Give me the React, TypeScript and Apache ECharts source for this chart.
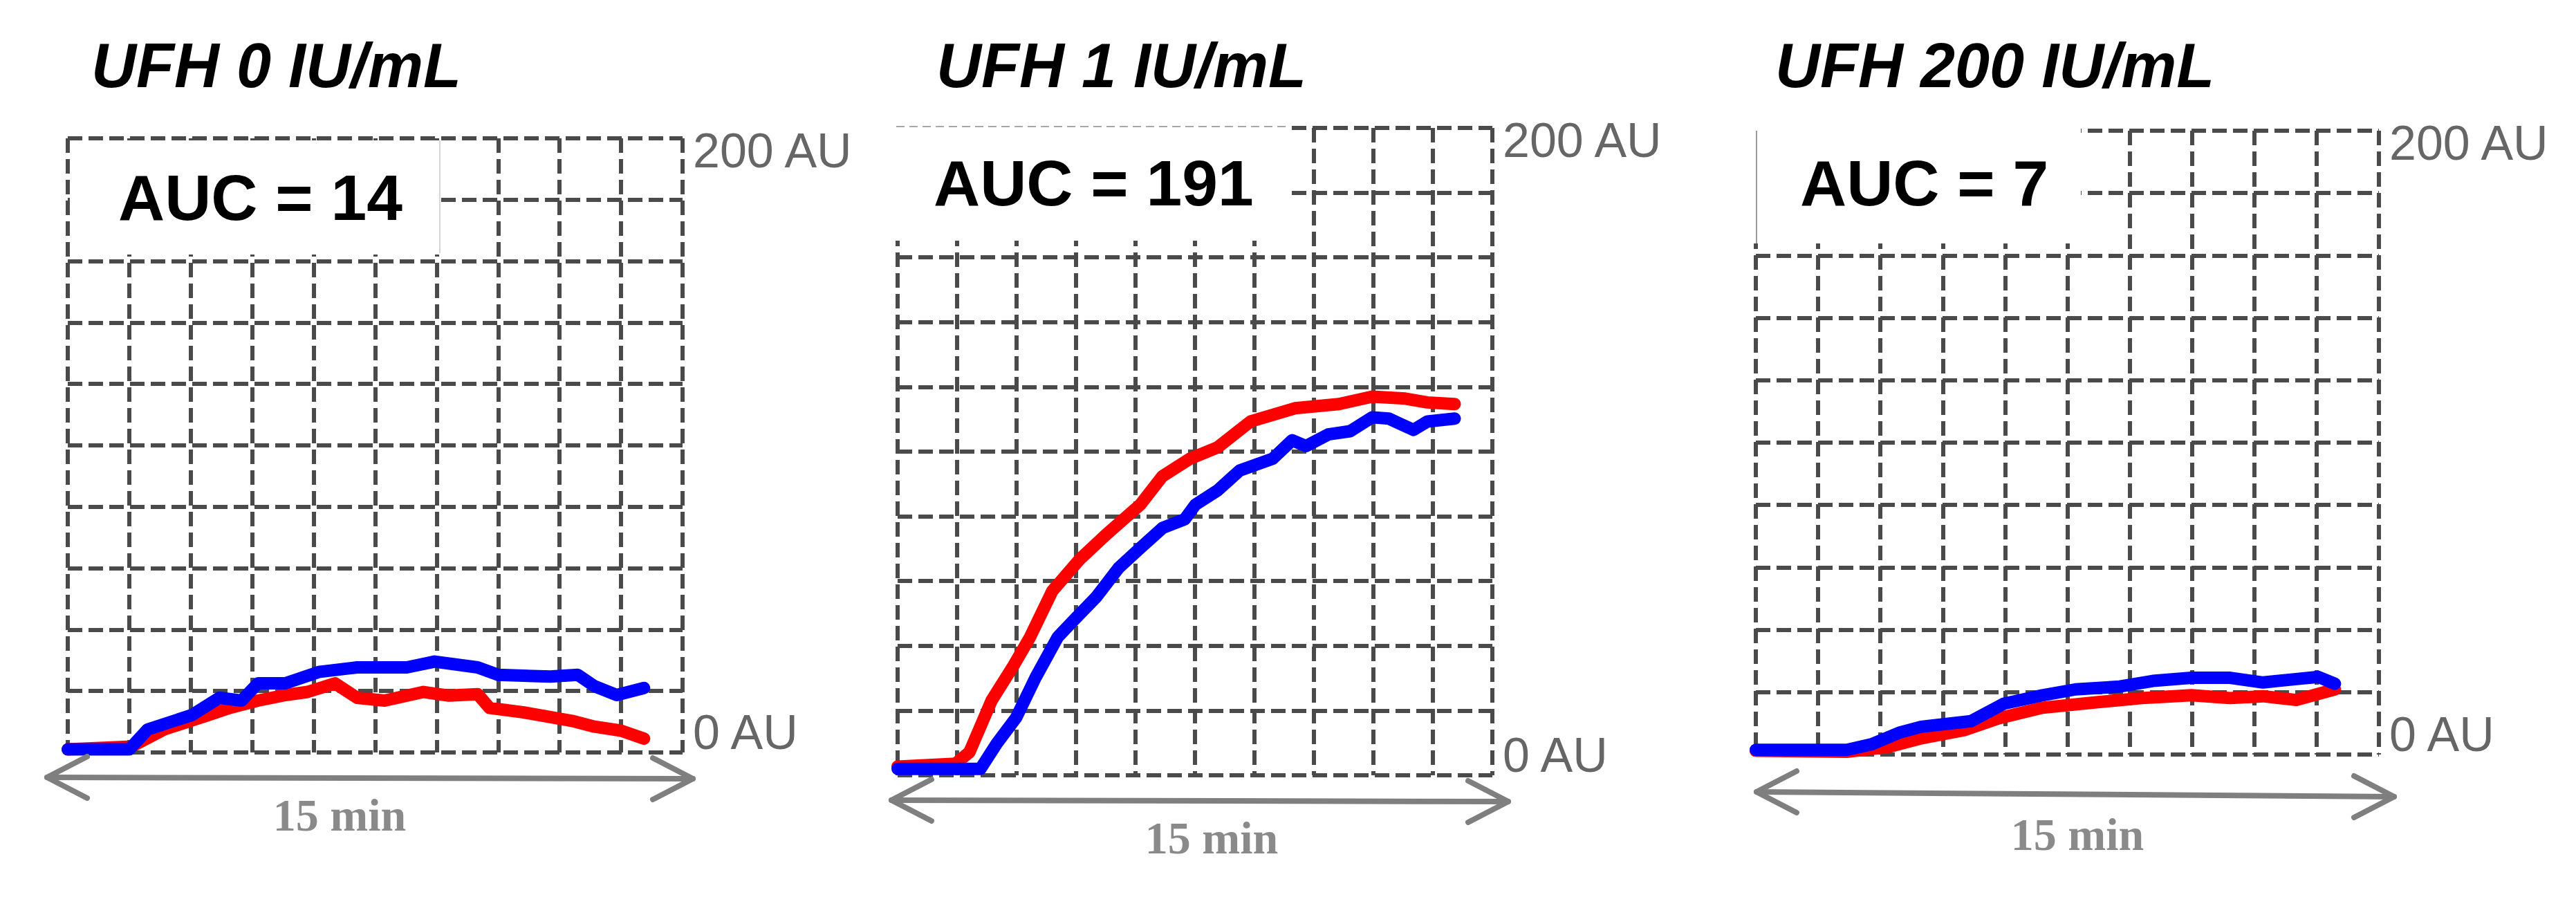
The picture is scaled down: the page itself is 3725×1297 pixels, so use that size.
import React, { useEffect, useRef } from 'react';
import * as echarts from 'echarts';

// ---------- data ----------
const PANEL_TITLES = ['UFH 0 IU/mL', 'UFH 1 IU/mL', 'UFH 200 IU/mL'];
const AUC_LABELS = ['AUC = 14', 'AUC = 191', 'AUC = 7'];
const SPAN_LABEL = '15 min';
const X_MIN = 0;
const X_MAX = 15;
const X_STEP = 1.5;
const Y_MIN = 0;
const Y_MAX = 200;
const Y_STEP = 20;
const Y_TICK_LABELS: Record<number, string> = { 0: '0 AU', 200: '200 AU' };

// [time (min), signal (AU)]
const p1Red = [[0, 1], [1.55, 1.9], [2.35, 7.5], [3.43, 12.2], [3.97, 14.6], [4.64, 16.9], [5.31, 18.7], [5.85, 19.7], [6.52, 22.5], [7.06, 17.8], [7.73, 16.9], [8.68, 19.7], [9.3, 18.5], [10.0, 19], [10.29, 14.5], [11.1, 13.1], [12.3, 10.3], [12.85, 8.4], [13.5, 7.1], [14.06, 4.5]];
const p1Blue = [[0, 1], [1.5, 1], [1.95, 7.5], [3.03, 12.2], [3.7, 17.8], [4.24, 16.9], [4.64, 22.5], [5.31, 22.5], [6.12, 26.2], [7.06, 27.7], [8.27, 27.7], [8.95, 29.6], [10.0, 27.7], [10.5, 25.3], [11.77, 24.7], [12.44, 25.3], [12.85, 21.6], [13.39, 18.7], [14.06, 21.0]];

const p2Red = [[0, 2.7], [1.46, 3.6], [1.81, 7.1], [2.37, 23.1], [2.92, 33.8], [3.34, 42.7], [3.9, 56.9], [4.59, 66.7], [5.29, 74.7], [6.12, 83.6], [6.68, 92.4], [7.37, 97.8], [8.07, 101.3], [8.9, 109.3], [10.02, 113.4], [11.13, 114.7], [11.97, 117], [12.8, 116.4], [13.36, 115.2], [14.05, 114.7]];
const p2Blue = [[0, 2], [2.09, 2], [2.5, 9.8], [2.99, 17.8], [3.48, 30.2], [4.04, 42.7], [4.45, 48.0], [5.01, 55.1], [5.57, 64.0], [6.12, 70.2], [6.68, 76.4], [7.24, 79.1], [7.51, 83.6], [8.07, 88.0], [8.63, 94.2], [9.46, 97.8], [9.95, 103.5], [10.3, 101.7], [10.86, 105.3], [11.41, 106.3], [11.97, 110.6], [12.39, 110.2], [13.01, 106.7], [13.36, 109.3], [14.05, 110.2]];

const p3Red = [[0, 1.2], [2.19, 0.9], [3.19, 2.4], [3.98, 5.2], [5.04, 7.9], [5.84, 11.6], [6.9, 15.0], [8.23, 16.8], [9.29, 18.1], [10.49, 19.0], [11.42, 18.1], [12.21, 18.7], [13.01, 17.5], [13.94, 20.9]];
const p3Blue = [[0, 1.5], [2.19, 1.5], [2.79, 3.3], [3.45, 7.0], [3.98, 8.9], [5.18, 10.7], [5.97, 16.3], [6.9, 19.0], [7.7, 20.9], [8.76, 21.8], [9.56, 23.6], [10.49, 24.6], [11.42, 24.6], [12.21, 23.1], [13.01, 24.2], [13.54, 24.9], [13.94, 22.7]];

const RED_SERIES = [p1Red, p2Red, p3Red];
const BLUE_SERIES = [p1Blue, p2Blue, p3Blue];

// ---------- layout / style ----------
const GRIDS = [
  { left: 98, top: 200, width: 889, height: 888 },
  { left: 1298, top: 185, width: 860, height: 936 },
  { left: 2539, top: 189, width: 901, height: 902 },
];
const TITLE_POS = [
  { left: 132, top: 50 },
  { left: 1354, top: 50 },
  { left: 2567, top: 50 },
];
const AUC_POS = [
  { x: 171, y: 286 },
  { x: 1350, y: 265 },
  { x: 2603, y: 265 },
];
const BOXES = [
  { x: 101, y: 203, width: 535, height: 165 },
  { x: 1293, y: 180, width: 575, height: 168 },
  { x: 2534, y: 184, width: 475, height: 168 },
];
const ARROWS = [
  { x1: 68, y1: 1124, x2: 1002, y2: 1126 },
  { x1: 1289, y1: 1157, x2: 2181, y2: 1159 },
  { x1: 2540, y1: 1145, x2: 3462, y2: 1152 },
];
const SPAN_POS = [
  { x: 491, y: 1178 },
  { x: 1752, y: 1211 },
  { x: 3004, y: 1206 },
];

const GRID_LINE = { color: '#4a4a4a', width: 6, type: [21, 9] as number[] };
const ARROW_COLOR = '#7f7f7f';
const LINE_WIDTH = 18;

function buildOption() {
  const grid = GRIDS.map((g) => ({ ...g, containLabel: false }));
  const xAxis = GRIDS.map((_, i) => ({
    type: 'value',
    gridIndex: i,
    min: X_MIN,
    max: X_MAX,
    interval: X_STEP,
    axisLine: { show: false },
    axisTick: { show: false },
    axisLabel: { show: false },
    splitLine: { show: true, showMinLine: true, showMaxLine: true, lineStyle: GRID_LINE },
  }));
  const yAxis = GRIDS.map((_, i) => ({
    type: 'value',
    gridIndex: i,
    position: 'right',
    min: Y_MIN,
    max: Y_MAX,
    interval: Y_STEP,
    axisLine: { show: false },
    axisTick: { show: false },
    splitLine: { show: true, showMinLine: true, showMaxLine: true, lineStyle: GRID_LINE },
    axisLabel: {
      show: true,
      margin: 15,
      color: '#666666',
      fontSize: 70,
      fontFamily: "'Liberation Sans', Arial, sans-serif",
      verticalAlign: 'middle',
      verticalAlignMaxLabel: 'top',
      verticalAlignMinLabel: 'bottom',
      formatter: (v: number) => {
        const t = Y_TICK_LABELS[v];
        if (!t) return '';
        return v === Y_MAX ? `{hi|${t}}` : `{lo|${t}}`;
      },
      rich: {
        hi: { lineHeight: 36, fontSize: 70, color: '#666666', fontFamily: "'Liberation Sans', Arial, sans-serif" },
        lo: { lineHeight: 58, fontSize: 70, color: '#666666', fontFamily: "'Liberation Sans', Arial, sans-serif" },
      },
    },
  }));

  const series: any[] = [];
  GRIDS.forEach((_, i) => {
    series.push({
      type: 'line',
      name: `red-${i}`,
      xAxisIndex: i,
      yAxisIndex: i,
      data: RED_SERIES[i],
      showSymbol: false,
      symbol: 'none',
      lineStyle: { color: '#ff0000', width: LINE_WIDTH, join: 'round', cap: 'round' },
      z: 3,
    });
    series.push({
      type: 'line',
      name: `blue-${i}`,
      xAxisIndex: i,
      yAxisIndex: i,
      data: BLUE_SERIES[i],
      showSymbol: false,
      symbol: 'none',
      lineStyle: { color: '#0000ff', width: LINE_WIDTH, join: 'round', cap: 'round' },
      z: 4,
    });
  });

  const title = PANEL_TITLES.map((t, i) => ({
    text: t,
    left: TITLE_POS[i].left,
    top: TITLE_POS[i].top,
    padding: 0,
    textStyle: {
      fontFamily: "'Liberation Sans', Arial, sans-serif",
      fontStyle: 'italic',
      fontWeight: 'bold',
      fontSize: 90,
      color: '#000000',
    },
  }));

  const elements: any[] = [];
  BOXES.forEach((b) => {
    elements.push({
      type: 'rect',
      z: 100,
      shape: { x: b.x, y: b.y, width: b.width, height: b.height },
      style: { fill: '#ffffff' },
    });
  });
  // faint box edges seen in the reference
  elements.push({
    type: 'line', z: 101,
    shape: { x1: 636, y1: 203, x2: 636, y2: 366 },
    style: { stroke: '#c8c8c8', lineWidth: 1.5 },
  });
  elements.push({
    type: 'line', z: 101,
    shape: { x1: 1296, y1: 183, x2: 1866, y2: 183 },
    style: { stroke: '#8a8a8a', lineWidth: 1.5, lineDash: [12, 7] },
  });
  elements.push({
    type: 'line', z: 101,
    shape: { x1: 2540, y1: 189, x2: 2540, y2: 352 },
    style: { stroke: '#9a9a9a', lineWidth: 2 },
  });

  AUC_LABELS.forEach((t, i) => {
    elements.push({
      type: 'text',
      z: 102,
      style: {
        text: t,
        x: AUC_POS[i].x,
        y: AUC_POS[i].y,
        fill: '#000000',
        fontFamily: "'Liberation Sans', Arial, sans-serif",
        fontWeight: 'bold',
        fontSize: 93,
        textAlign: 'left',
        textVerticalAlign: 'middle',
      },
    });
  });

  ARROWS.forEach((a) => {
    const common = { stroke: ARROW_COLOR, lineWidth: 8, lineCap: 'round', lineJoin: 'round', fill: null };
    elements.push({ type: 'line', z: 90, shape: { x1: a.x1, y1: a.y1, x2: a.x2, y2: a.y2 }, style: common });
    elements.push({
      type: 'polyline', z: 90,
      shape: { points: [[a.x1 + 58, a.y1 - 30], [a.x1, a.y1], [a.x1 + 58, a.y1 + 30]] },
      style: common,
    });
    elements.push({
      type: 'polyline', z: 90,
      shape: { points: [[a.x2 - 58, a.y2 - 30], [a.x2, a.y2], [a.x2 - 58, a.y2 + 30]] },
      style: common,
    });
  });

  SPAN_POS.forEach((p) => {
    elements.push({
      type: 'text',
      z: 91,
      style: {
        text: SPAN_LABEL,
        x: p.x,
        y: p.y,
        fill: '#8a8a8a',
        fontFamily: "'Liberation Serif', 'Times New Roman', serif",
        fontWeight: 'bold',
        fontSize: 66,
        textAlign: 'center',
        textVerticalAlign: 'middle',
      },
    });
  });

  return {
    animation: false,
    backgroundColor: '#ffffff',
    title,
    grid,
    xAxis,
    yAxis,
    series,
    graphic: { elements },
  };
}

export default function App() {
  const ref = useRef<HTMLDivElement>(null);
  useEffect(() => {
    document.body.style.margin = '0';
    if (!ref.current) return;
    const chart = echarts.init(ref.current, null, { renderer: 'svg' });
    chart.setOption(buildOption() as any);
    return () => {
      chart.dispose();
    };
  }, []);
  return <div ref={ref} style={{ width: 3725, height: 1297, background: '#ffffff' }} />;
}
